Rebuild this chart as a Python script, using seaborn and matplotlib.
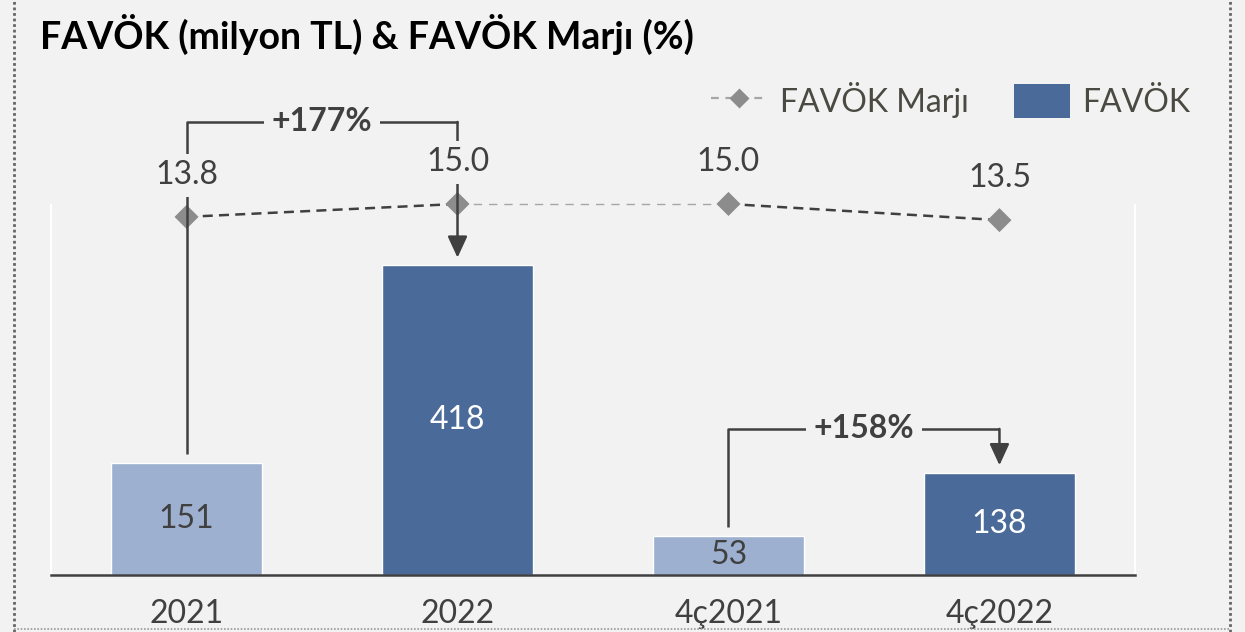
import matplotlib
matplotlib.use("Agg")
import matplotlib.pyplot as plt
from matplotlib.lines import Line2D
from matplotlib.patches import Patch
import seaborn as sns

# Chart data
categories = ["2021", "2022", "4ç2021", "4ç2022"]
favok = [151, 418, 53, 138]           # FAVÖK (milyon TL)
marj = [13.8, 15.0, 15.0, 13.5]       # FAVÖK Marjı (%)
growth_labels = ["+177%", "+158%"]
growth_pairs = [(0, 1), (2, 3)]

# Colours
BG = "#f2f2f2"
LIGHT = "#9db0cf"
DARK = "#4a6a9a"
TXT = "#404040"
bar_colors = [LIGHT, DARK, LIGHT, DARK]

sns.set_style("white")
plt.rcParams["font.family"] = ["Lato", "DejaVu Sans"]

fig = plt.figure(figsize=(12.45, 6.32), dpi=100, facecolor=BG)
ax = fig.add_axes([0.041, 0.0902, 0.8706, 0.5854])
ax.set_facecolor(BG)

sns.barplot(x=categories, y=favok, hue=categories, palette=bar_colors,
            legend=False, width=0.555, saturation=1, ax=ax, zorder=2)
ax.set_xlim(-0.5, 3.5)
ax.set_ylim(0, 499)

# value labels inside the bars
for i, cont in enumerate(ax.containers):
    col = TXT if bar_colors[i] == LIGHT else "white"
    ax.bar_label(cont, labels=[f"{v:.0f}" for v in cont.datavalues],
                 label_type="center", fontsize=23, color=col)

ax.set_yticks([])
ax.set_xlabel("")
ax.set_ylabel("")
ax.tick_params(axis="x", length=0, pad=17, labelsize=23, labelcolor=TXT)
ax.spines["top"].set_visible(False)
ax.spines["bottom"].set_color(TXT)
ax.spines["bottom"].set_linewidth(1.8)
for s in ["left", "right"]:
    ax.spines[s].set_color("white")
    ax.spines[s].set_linewidth(1.5)

# margin line on a secondary axis
ax2 = ax.twinx()
ax2.set_ylim(-19.4, 14.9)
ax2.set_yticks([])
for s in ax2.spines.values():
    s.set_visible(False)

xs = list(range(len(categories)))
for i in range(len(xs) - 1):
    if i == 1:
        ax2.plot(xs[i:i + 2], marj[i:i + 2], color="#a6a6a6", lw=1.0,
                 dashes=(6, 5), zorder=2, clip_on=False)
    else:
        ax2.plot(xs[i:i + 2], marj[i:i + 2], color=TXT, lw=1.8,
                 dashes=(4, 2.5), zorder=2, clip_on=False)
sns.scatterplot(x=xs, y=marj, marker="D", s=150, color="#8c8c8c",
                edgecolor="none", ax=ax2, zorder=3, clip_on=False)

for x, v in zip(xs, marj):
    ax2.annotate(f"{v:.1f}", (x, v), xytext=(0, 30), textcoords="offset points",
                 ha="center", va="center", fontsize=23, color=TXT, zorder=6,
                 bbox=dict(boxstyle="square,pad=0.2", fc=BG, ec="none"),
                 annotation_clip=False)

# growth brackets (drawn in bar-axis data coordinates)
bracket_tops = [611, 197]
for (a, b), top, lab in zip(growth_pairs, bracket_tops, growth_labels):
    y0 = favok[a] + 12
    y1 = favok[b] + 10
    ax2.plot([a, a, b], [y0, top, top], color=TXT, lw=1.8, zorder=4,
             transform=ax.transData, clip_on=False, solid_capstyle="butt")
    ax2.annotate("", xy=(b, y1), xytext=(b, top), xycoords=ax.transData,
                 textcoords=ax.transData, zorder=4, annotation_clip=False,
                 arrowprops=dict(arrowstyle="-|>,head_length=0.65,head_width=0.3",
                                 mutation_scale=20, lw=1.8, color=TXT,
                                 shrinkA=0, shrinkB=0))
    ax2.text((a + b) / 2, top, lab, transform=ax.transData, ha="center",
             va="center", fontsize=23, fontweight="bold", color=TXT, zorder=6,
             bbox=dict(boxstyle="square,pad=0.25", fc=BG, ec="none"), clip_on=False)

# title
fig.text(0.032, 0.945, "FAVÖK (milyon TL) & FAVÖK Marjı (%)", fontsize=27,
         fontweight="bold", color="black", ha="left", va="center")

# legend
handles = [
    Line2D([], [], color="#a6a6a6", lw=1.6, dashes=(3.5, 3), marker="D",
           markersize=10, markerfacecolor="#8c8c8c", markeredgecolor="none"),
    Patch(facecolor=DARK, edgecolor="none"),
]
fig.legend(handles, ["FAVÖK Marjı", "FAVÖK"], loc="center right",
           bbox_to_anchor=(0.969, 0.842), ncol=2, frameon=False, fontsize=23,
           handlelength=1.75, handleheight=1.25, handletextpad=0.4,
           columnspacing=1.4, borderpad=0, labelcolor="#4a4a42")

# dotted frame
for x in [0.0112, 0.988]:
    fig.add_artist(Line2D([x, x], [0, 1], transform=fig.transFigure,
                          color="#666666", lw=2, linestyle=(0, (1, 1))))
fig.add_artist(Line2D([0.0112, 0.988], [0.005, 0.005], transform=fig.transFigure,
                      color="#999999", lw=1.2, linestyle=(0, (1, 1))))

fig.savefig("out.png", dpi=100, facecolor=BG)
